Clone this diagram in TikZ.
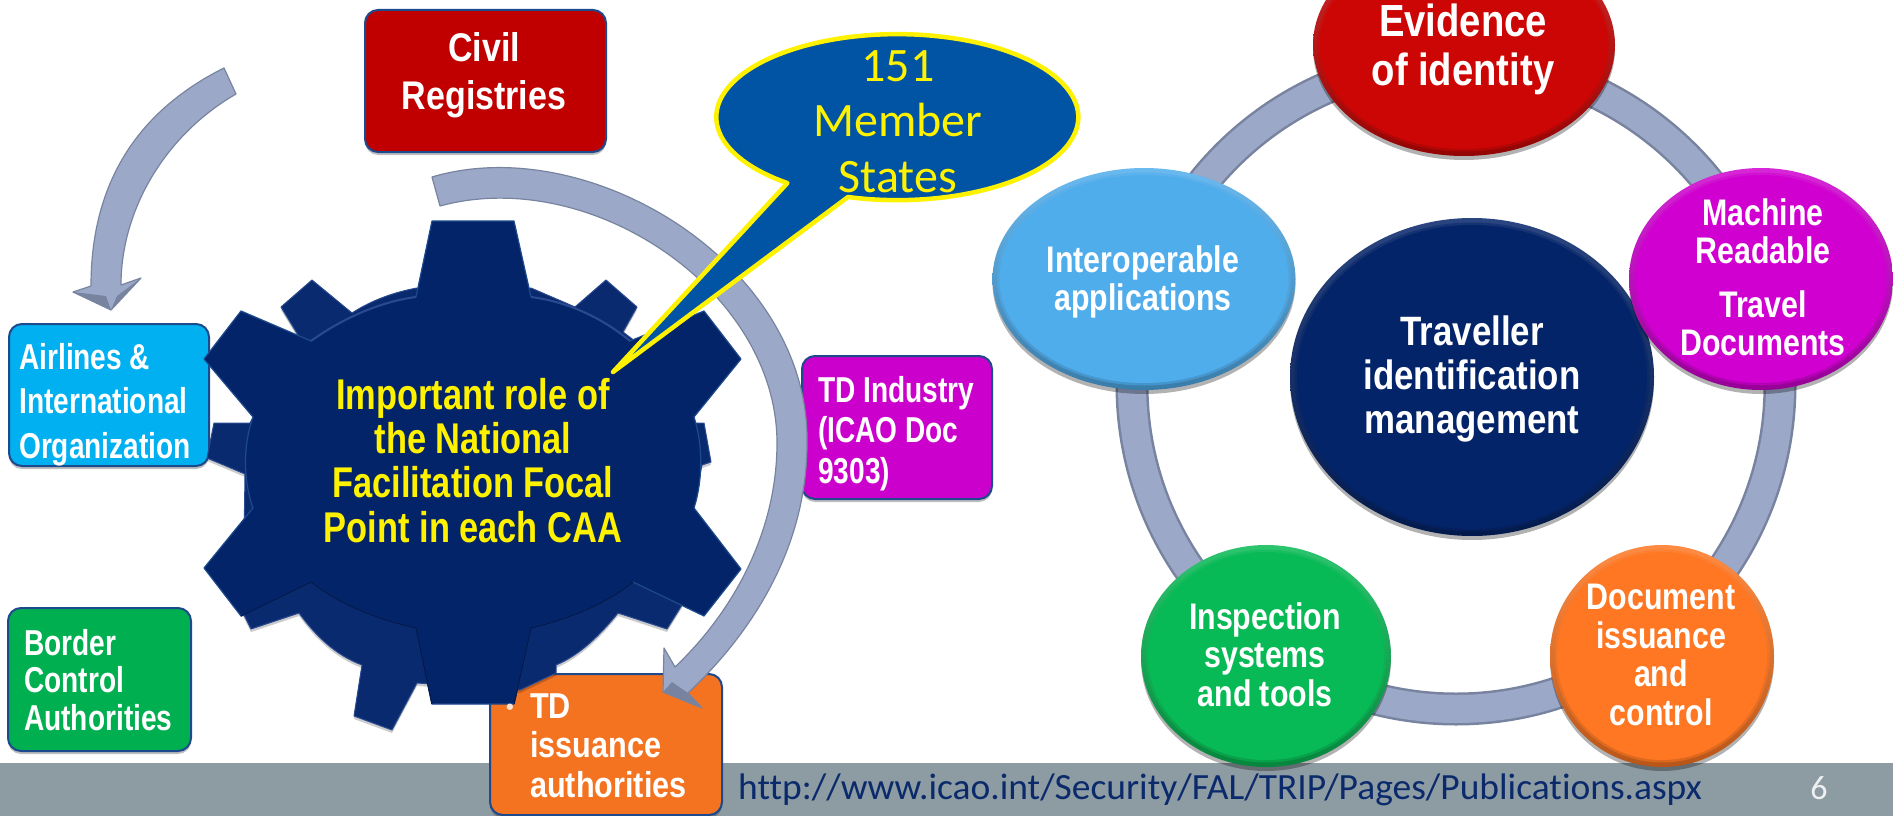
\documentclass[tikz,border=0pt]{standalone}
\usepackage{fontspec}
\setmainfont{Liberation Sans}
\newfontfamily\fnA[FakeStretch=0.80]{Liberation Sans}
\newfontfamily\fnE[FakeStretch=0.78]{Liberation Sans}
\newfontfamily\fnF[FakeStretch=0.82]{Liberation Sans}
\newfontfamily\fnB[FakeStretch=0.85]{Liberation Sans}
\newfontfamily\fnC[Ligatures=NoCommon]{Carlito}
\newfontfamily\fnU[Ligatures=NoCommon,FakeStretch=1.013]{Carlito}
\usetikzlibrary{shapes.geometric}
\definecolor{cband}{HTML}{8D9BA3}
\definecolor{cnavy}{HTML}{042469}
\definecolor{cnavyb}{HTML}{0A2A70}
\definecolor{cedge}{HTML}{1D4A8C}
\definecolor{cgearl}{HTML}{2A4A90}
\definecolor{cgeard}{HTML}{021A50}
\definecolor{cred}{HTML}{C00000}
\definecolor{csky}{HTML}{00B0F0}
\definecolor{cgreen}{HTML}{00B050}
\definecolor{corange}{HTML}{F47321}
\definecolor{cmag}{HTML}{CC00CC}
\definecolor{ccall}{HTML}{0054A3}
\definecolor{cbar}{HTML}{9BA8C8}
\definecolor{cbard}{HTML}{78849F}
\definecolor{curl}{HTML}{0B2A6B}
\definecolor{ovred}{RGB}{204,6,5}
\definecolor{ovsky}{RGB}{80,173,236}
\definecolor{ovmag}{RGB}{208,0,208}
\definecolor{ovgreen}{RGB}{8,186,85}
\definecolor{ovorange}{RGB}{255,119,34}
\newcommand{\fs}[3]{#1\fontsize{#2pt}{#3pt}\selectfont\bfseries}
\tikzset{
  boxx/.style={draw=cedge,line width=2pt,rounded corners=13pt,inner sep=0pt,
     preaction={fill=black,opacity=.25,transform canvas={yshift=-3pt}}},
  oval/.style={ellipse,inner sep=0pt,top color=#1!85!white,bottom color=#1!72!black,
     preaction={fill=black,opacity=.3,transform canvas={yshift=-4pt}}},
  core/.style={ellipse,inner sep=0pt,fill=#1,draw=#1,draw opacity=.5,line width=5pt},
  lab/.style={inner sep=0pt,text=white,align=center,anchor=base},
  labl/.style={inner sep=0pt,text=white,align=left,anchor=base west},
  barr/.style={fill=cbar,draw=cbard,line width=1.2pt,line join=round},
  gearback/.style={fill=cnavyb,draw=cgearl,line width=1pt,line join=round,
     preaction={fill=black,opacity=.2,transform canvas={yshift=-3pt}}},
  gearfront/.style={fill=cnavy,draw=cedge,line width=1.2pt,line join=round}
}
\begin{document}
\begin{tikzpicture}[x=1pt,y=-1pt]
\useasboundingbox (0,0) rectangle (1893,816);
\fill[white] (0,0) rectangle (1893,816);
% band
\fill[cband] (0,763) rectangle (1893,816);
\node[inner sep=0pt,anchor=base west,text=curl,font=\fnU\fontsize{37}{40}\selectfont] (url) at (738,799) {http://www.icao.int/Security/FAL/TRIP/Pages/Publications.aspx};
\node[inner sep=0pt,anchor=base,text=white!85!cband,font=\fnC\fontsize{34}{36}\selectfont] (pageno) at (1819,799) {6};
% left boxes
\node[boxx,fill=cred,minimum width=241pt,minimum height=142pt] (civil) at (485.5,81) {};
\node[boxx,fill=csky,minimum width=200pt,minimum height=142pt] (airlines) at (109,395) {};
\node[boxx,fill=cgreen,minimum width=183pt,minimum height=143pt] (border) at (99.5,679.5) {};
\node[boxx,fill=corange,minimum width=232pt,minimum height=141pt] (issuance) at (606,744.5) {};
\node[boxx,fill=cmag,minimum width=190pt,minimum height=143pt] (industry) at (897,427.5) {};
% back gear
\draw[gearback] (352,313) .. controls (372,300) and (395,292) .. (417,288) -- (531,288)
  -- (575,307) -- (606,280) -- (637,307) -- (623,332) -- (640,345) -- (695,423) -- (704,423)
  -- (711,462) -- (702,465) -- (690,520) -- (682,605) -- (667,629) -- (618,613)
  .. controls (600,635) and (580,655) .. (556,665) -- (556,673) -- (520,690) -- (417,683)
  -- (392,730) -- (354,716) -- (362,665) .. controls (335,655) and (315,635) .. (299,613)
  -- (251,629) -- (243,613) -- (245,474) -- (207,458) -- (214,423) -- (250,423)
  -- (298,335) -- (281,307) -- (312,280) -- cycle;
% front gear
\draw[gearfront] (432,221) -- (514,221) -- (531,297)
  .. controls (570,302) and (605,320) .. (630,341) -- (704,311) -- (741,359) -- (694,417)
  .. controls (703,445) and (703,480) .. (694,508) -- (741,569) -- (704,616) -- (633,582)
  .. controls (605,605) and (565,620) .. (531,628) -- (514,704) -- (432,704) -- (416,628)
  .. controls (380,620) and (340,605) .. (311,582) -- (241,616) -- (204,568) -- (253,508)
  .. controls (243,480) and (243,445) .. (253,417) -- (204,359) -- (241,311) -- (311,341)
  .. controls (340,320) and (378,302) .. (416,297) -- cycle;
\draw[cgeard,line width=1.4pt] (633,582) .. controls (605,605) and (565,620) .. (531,628) -- (514,704);
\draw[cgeard,line width=1.4pt] (432,704) -- (416,628) .. controls (380,620) and (340,605) .. (311,582) -- (241,616);
\draw[cgearl,line width=2pt] (531,297) .. controls (570,302) and (605,320) .. (630,341);
\draw[cgearl,line width=2pt] (311,341) .. controls (340,320) and (378,302) .. (416,297);
% arrows
\draw[barr] (224,68) .. controls (140,110) and (91,180) .. (91,286)
  -- (73,292) -- (111,310) -- (141,278) -- (121,285)
  .. controls (121,210) and (165,135) .. (236,94) -- cycle;
\fill[cbard] (73,292) -- (111,310) -- (106,296) -- cycle;
\fill[cbard] (141,278) -- (111,310) -- (117,296) -- cycle;
\draw[barr] (432,177) .. controls (590,130) and (810,265) .. (807,443)
  .. controls (807,540) and (760,625) .. (688,693)
  -- (702,708) -- (663,692) -- (664,648) -- (675,667)
  .. controls (735,610) and (777,530) .. (777,443)
  .. controls (777,290) and (590,165) .. (440,206) -- cycle;
\fill[cbard] (663,692) -- (702,708) -- (688,693) -- (672,682) -- cycle;
% callout
\draw[fill=ccall,draw=yellow,line width=4.5pt,line join=round] (613,372) -- (848,197)
  arc [start angle=105.8,end angle=-232.6,x radius=181,y radius=83] -- cycle;
\node[inner sep=0pt,text=yellow,align=center,anchor=base,font=\fnC\fontsize{48}{55.5}\selectfont] (member) at (898,192) {151\\Member\\States};
% gear and box labels
\node[lab,text=yellow,font=\fs{\fnA}{43}{44.3}] (role) at (473,542) {Important role of\\the National\\Facilitation Focal\\Point in each CAA};
\node[lab,font=\fs{\fnB}{40}{48}] (civilt) at (484,110) {Civil\\Registries};
\node[labl,font=\fs{\fnE}{36}{44.5}] (airlinest) at (19,458) {Airlines \&\\International\\Organization};
\node[labl,font=\fs{\fnE}{36}{37.5}] (bordert) at (24,730) {Border\\Control\\Authorities};
\node[labl,font=\fs{\fnB}{36}{39.5}] (issuancet) at (530,797) {TD\\issuance\\authorities};
\node[inner sep=0pt,text=white!80!corange,anchor=base,font=\fs{\rmfamily}{22}{24}] (bullet) at (510,714) {•};
\node[labl,font=\fs{\fnE}{36}{40.5}] (industryt) at (818,483) {TD Industry\\(ICAO Doc\\9303)};
% ring
\draw[cbard,line width=33pt] (1456,385) circle [radius=324];
\draw[cbar,line width=28pt] (1456,385) circle [radius=324];
% ovals
\node[oval=cnavy,minimum width=364pt,minimum height=318pt] (midr) at (1472,377) {};
\node[core=cnavy,minimum width=350pt,minimum height=304pt] (midc) at (1472,377) {};
\node[oval=ovred,minimum width=302pt,minimum height=222pt] (evr) at (1464,45) {};
\node[core=ovred,minimum width=288pt,minimum height=208pt] (evc) at (1464,45) {};
\node[oval=ovsky,minimum width=303pt,minimum height=222pt] (inr) at (1144,279) {};
\node[core=ovsky,minimum width=289pt,minimum height=208pt] (inc) at (1144,279) {};
\node[oval=ovmag,minimum width=264pt,minimum height=222pt] (mar) at (1761,279) {};
\node[core=ovmag,minimum width=250pt,minimum height=208pt] (mac) at (1761,279) {};
\node[oval=ovgreen,minimum width=250pt,minimum height=222pt] (isr) at (1266,656) {};
\node[core=ovgreen,minimum width=236pt,minimum height=208pt] (isc) at (1266,656) {};
\node[oval=ovorange,minimum width=224pt,minimum height=222pt] (dor) at (1662,656) {};
\node[core=ovorange,minimum width=210pt,minimum height=208pt] (doc) at (1662,656) {};
% oval labels
\node[lab,font=\fs{\fnB}{45}{49}] (evt) at (1463,85) {Evidence\\of identity};
\node[lab,font=\fs{\fnF}{37}{38}] (intt) at (1143,310) {Interoperable\\applications};
\node[lab,font=\fs{\fnF}{37}{38}] (mat) at (1763,355) {Machine\\Readable\\[16pt]Travel\\Documents};
\node[lab,font=\fs{\fnB}{41}{44}] (midt) at (1472,433) {Traveller\\identification\\management};
\node[lab,font=\fs{\fnF}{37}{38.5}] (ist) at (1265,706) {Inspection\\systems\\and tools};
\node[lab,font=\fs{\fnF}{37}{38.5}] (dot) at (1661,725) {Document\\issuance\\and\\control};
\end{tikzpicture}
\end{document}
